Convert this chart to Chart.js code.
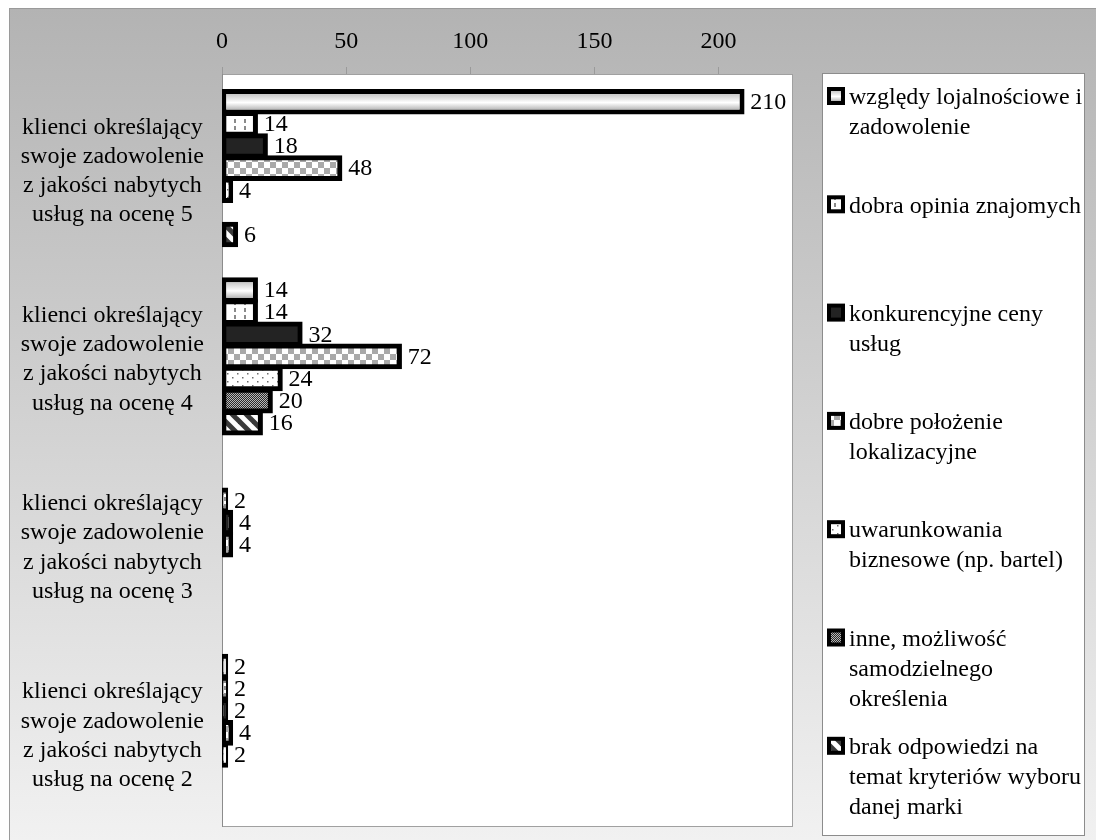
<!DOCTYPE html>
<html>
<head>
<meta charset="utf-8">
<script src="https://cdn.jsdelivr.net/npm/chart.js@4/dist/chart.umd.min.js"></script>
<style>
  html, body { margin: 0; padding: 0; background: #ffffff; }
  #wrap { width: 1096px; height: 840px; position: relative; }
  canvas { display: block; }
</style>
</head>
<body>
<div id="wrap"><canvas id="chart" width="1096" height="840"></canvas></div>
<script>
// Categories (satisfaction rating groups), drawn top to bottom
const categories = [
  ['klienci określający', 'swoje zadowolenie', 'z jakości nabytych', 'usług na ocenę 5'],
  ['klienci określający', 'swoje zadowolenie', 'z jakości nabytych', 'usług na ocenę 4'],
  ['klienci określający', 'swoje zadowolenie', 'z jakości nabytych', 'usług na ocenę 3'],
  ['klienci określający', 'swoje zadowolenie', 'z jakości nabytych', 'usług na ocenę 2']
];

// Legend texts, one entry per series, broken into lines
const legendLines = [
  ['względy lojalnościowe i', 'zadowolenie'],
  ['dobra opinia znajomych'],
  ['konkurencyjne ceny', 'usług'],
  ['dobre położenie', 'lokalizacyjne'],
  ['uwarunkowania', 'biznesowe (np. bartel)'],
  ['inne, możliwość', 'samodzielnego', 'określenia'],
  ['brak odpowiedzi na', 'temat kryteriów wyboru', 'danej marki']
];

// Series values per category (null = no answers)
const lojalnosc     = [210, 14, null, 2];
const opinia        = [14, 14, 2, 2];
const ceny          = [18, 32, 4, 2];
const polozenie     = [48, 72, 4, 4];
const uwarunkowania = [4, 24, null, 2];
const inne          = [null, 20, null, null];
const brak          = [6, 16, null, null];

// Value axis
const axisMin = 0;
const axisMax = 230;
const axisStep = 50;

const FONT = 'Liberation Serif';
const canvas = document.getElementById('chart');
const mainCtx = canvas.getContext('2d');

function makePattern(w, h, draw) {
  const c = document.createElement('canvas');
  c.width = w; c.height = h;
  const g = c.getContext('2d');
  draw(g, w, h);
  return mainCtx.createPattern(c, 'repeat');
}

// Fill styles for the seven series
const fillLojalnosc = '#e4e4e4'; // replaced by a per-bar gradient below
const fillOpinia = makePattern(10, 7, (g, w, h) => {
  g.fillStyle = '#ffffff'; g.fillRect(0, 0, w, h);
  g.fillStyle = '#8a8a8a'; g.fillRect(4, 0, 2, 4);
});
const fillCeny = '#232323';
const fillPolozenie = makePattern(12, 12, (g, w, h) => {
  g.fillStyle = '#ffffff'; g.fillRect(0, 0, w, h);
  g.fillStyle = '#a9a9a9'; g.fillRect(0, 0, 6, 6); g.fillRect(6, 6, 6, 6);
});
const fillUwarunkowania = makePattern(10, 8, (g, w, h) => {
  g.fillStyle = '#ffffff'; g.fillRect(0, 0, w, h);
  g.fillStyle = '#6e6e6e'; g.fillRect(2, 1, 1.5, 1.5); g.fillRect(7, 5, 1.5, 1.5);
});
const fillInne = makePattern(2, 2, (g, w, h) => {
  g.fillStyle = '#2a2a2a'; g.fillRect(0, 0, w, h);
  g.fillStyle = '#b8b8b8'; g.fillRect(0, 0, 1, 1); g.fillRect(1, 1, 1, 1);
});
const fillBrak = makePattern(14, 14, (g, w, h) => {
  g.fillStyle = '#ffffff'; g.fillRect(0, 0, w, h);
  g.strokeStyle = '#3a3a3a'; g.lineWidth = 5;
  for (let k = -1; k <= 1; k++) {
    g.beginPath(); g.moveTo(k * w - 2, -2); g.lineTo(k * w + w + 2, h + 2); g.stroke();
  }
});

function gradientFor(ctx, top, bottom) {
  const gr = ctx.createLinearGradient(0, top, 0, bottom);
  gr.addColorStop(0, '#c8c8c8');
  gr.addColorStop(0.55, '#ffffff');
  gr.addColorStop(1, '#b8b8b8');
  return gr;
}

const seriesValues = [lojalnosc, opinia, ceny, polozenie, uwarunkowania, inne, brak];
const seriesFills = [fillLojalnosc, fillOpinia, fillCeny, fillPolozenie, fillUwarunkowania, fillInne, fillBrak];
const BORDER = 5;
const INFLATE = 1.2;

const datasets = seriesValues.map((vals, i) => ({
  label: legendLines[i].join(' '),
  data: vals,
  backgroundColor: seriesFills[i],
  borderColor: '#000000',
  borderWidth: BORDER,
  borderSkipped: false,
  inflateAmount: INFLATE,
  categoryPercentage: 0.822,
  barPercentage: 1.05
}));

// Page background with frame, white plot area
const backdrop = {
  id: 'backdrop',
  beforeDraw(chart) {
    const { ctx, width, height, chartArea: a } = chart;
    ctx.save();
    ctx.fillStyle = '#ffffff';
    ctx.fillRect(0, 0, width, height);
    const bg = ctx.createLinearGradient(0, 8, 0, height);
    bg.addColorStop(0, '#b3b3b3');
    bg.addColorStop(1, '#f1f1f1');
    ctx.fillStyle = bg;
    ctx.fillRect(9, 8, width - 9, height - 8);
    ctx.strokeStyle = '#9a9a9a';
    ctx.lineWidth = 1;
    ctx.strokeRect(9.5, 8.5, width, height);
    ctx.fillStyle = '#ffffff';
    ctx.fillRect(a.left, a.top, a.right - a.left, a.bottom - a.top);
    ctx.strokeStyle = '#a0a0a0';
    ctx.strokeRect(a.left + 0.5, a.top + 0.5, a.right - a.left - 1, a.bottom - a.top - 1);
    ctx.strokeStyle = '#8c8c8c';
    ctx.beginPath(); ctx.moveTo(a.left + 0.5, a.top); ctx.lineTo(a.left + 0.5, a.bottom); ctx.stroke();
    ctx.restore();
  }
};

// Gradient interior of the first series' bars
const gradientBars = {
  id: 'gradientBars',
  afterDatasetDraw(chart, args) {
    if (args.index !== 0) return;
    const ctx = chart.ctx;
    ctx.save();
    args.meta.data.forEach((el, i) => {
      if (lojalnosc[i] === null) return;
      const p = el.getProps(['x', 'y', 'base', 'height'], true);
      const top = p.y - p.height / 2 - INFLATE + BORDER;
      const bottom = p.y + p.height / 2 + INFLATE - BORDER;
      const left = Math.min(p.x, p.base) - INFLATE + BORDER;
      const right = Math.max(p.x, p.base) + INFLATE - BORDER;
      if (right <= left) return;
      ctx.fillStyle = gradientFor(ctx, top, bottom);
      ctx.fillRect(left, top, right - left, bottom - top);
    });
    ctx.restore();
  }
};

// Value labels at the end of each bar
const valueLabels = {
  id: 'valueLabels',
  afterDatasetsDraw(chart) {
    const ctx = chart.ctx;
    ctx.save();
    ctx.font = '24px "' + FONT + '"';
    ctx.fillStyle = '#000000';
    ctx.textAlign = 'left';
    ctx.textBaseline = 'middle';
    chart.data.datasets.forEach((ds, di) => {
      const meta = chart.getDatasetMeta(di);
      meta.data.forEach((el, i) => {
        const v = ds.data[i];
        if (v === null || v === undefined) return;
        const p = el.getProps(['x', 'y'], true);
        ctx.fillText(String(v), p.x + 7, p.y + 1);
      });
    });
    ctx.restore();
  }
};

// Framed legend on the right with patterned markers
const sideLegend = {
  id: 'sideLegend',
  afterDraw(chart) {
    const ctx = chart.ctx;
    const box = { x: 822, y: 73, w: 262, h: 762 };
    ctx.save();
    ctx.fillStyle = '#ffffff';
    ctx.fillRect(box.x, box.y, box.w, box.h);
    ctx.strokeStyle = '#8c8c8c';
    ctx.lineWidth = 1;
    ctx.strokeRect(box.x + 0.5, box.y + 0.5, box.w, box.h);
    ctx.font = '24px "' + FONT + '"';
    ctx.textAlign = 'left';
    ctx.textBaseline = 'middle';
    legendLines.forEach((lines, i) => {
      const y0 = 98 + i * 108.3;
      ctx.fillStyle = '#000000';
      ctx.fillRect(827, y0 - 11, 18, 18);
      const inner = i === 0 ? gradientFor(ctx, y0 - 7, y0 + 3) : seriesFills[i];
      ctx.fillStyle = inner;
      ctx.fillRect(831, y0 - 7, 10, 10);
      ctx.fillStyle = '#000000';
      lines.forEach((t, j) => ctx.fillText(t, 849, y0 + j * 30));
    });
    ctx.restore();
  }
};

new Chart(canvas, {
  type: 'bar',
  data: { labels: categories, datasets },
  plugins: [backdrop, gradientBars, valueLabels, sideLegend],
  options: {
    indexAxis: 'y',
    responsive: false,
    animation: false,
    devicePixelRatio: 1,
    layout: { padding: { left: 0, top: 0, right: 303, bottom: 13 } },
    plugins: {
      legend: { display: false },
      tooltip: { enabled: false }
    },
    scales: {
      x: {
        position: 'top',
        min: axisMin,
        max: axisMax,
        afterFit(scale) { scale.height = 74; scale.paddingLeft = 0; scale.paddingRight = 0; },
        ticks: {
          stepSize: axisStep,
          includeBounds: false,
          color: '#000000',
          padding: 11,
          font: { family: FONT, size: 24 }
        },
        grid: { drawOnChartArea: false, drawTicks: true, tickLength: 7, color: '#9a9a9a' },
        border: { display: false }
      },
      y: {
        afterFit(scale) { scale.width = 222; scale.paddingTop = 0; scale.paddingBottom = 0; },
        ticks: {
          color: '#000000',
          crossAlign: 'center',
          padding: 18,
          labelOffset: 3,
          font: { family: FONT, size: 24, lineHeight: 1.22 }
        },
        grid: { display: false, drawTicks: false },
        border: { display: false }
      }
    }
  }
});
</script>
</body>
</html>
